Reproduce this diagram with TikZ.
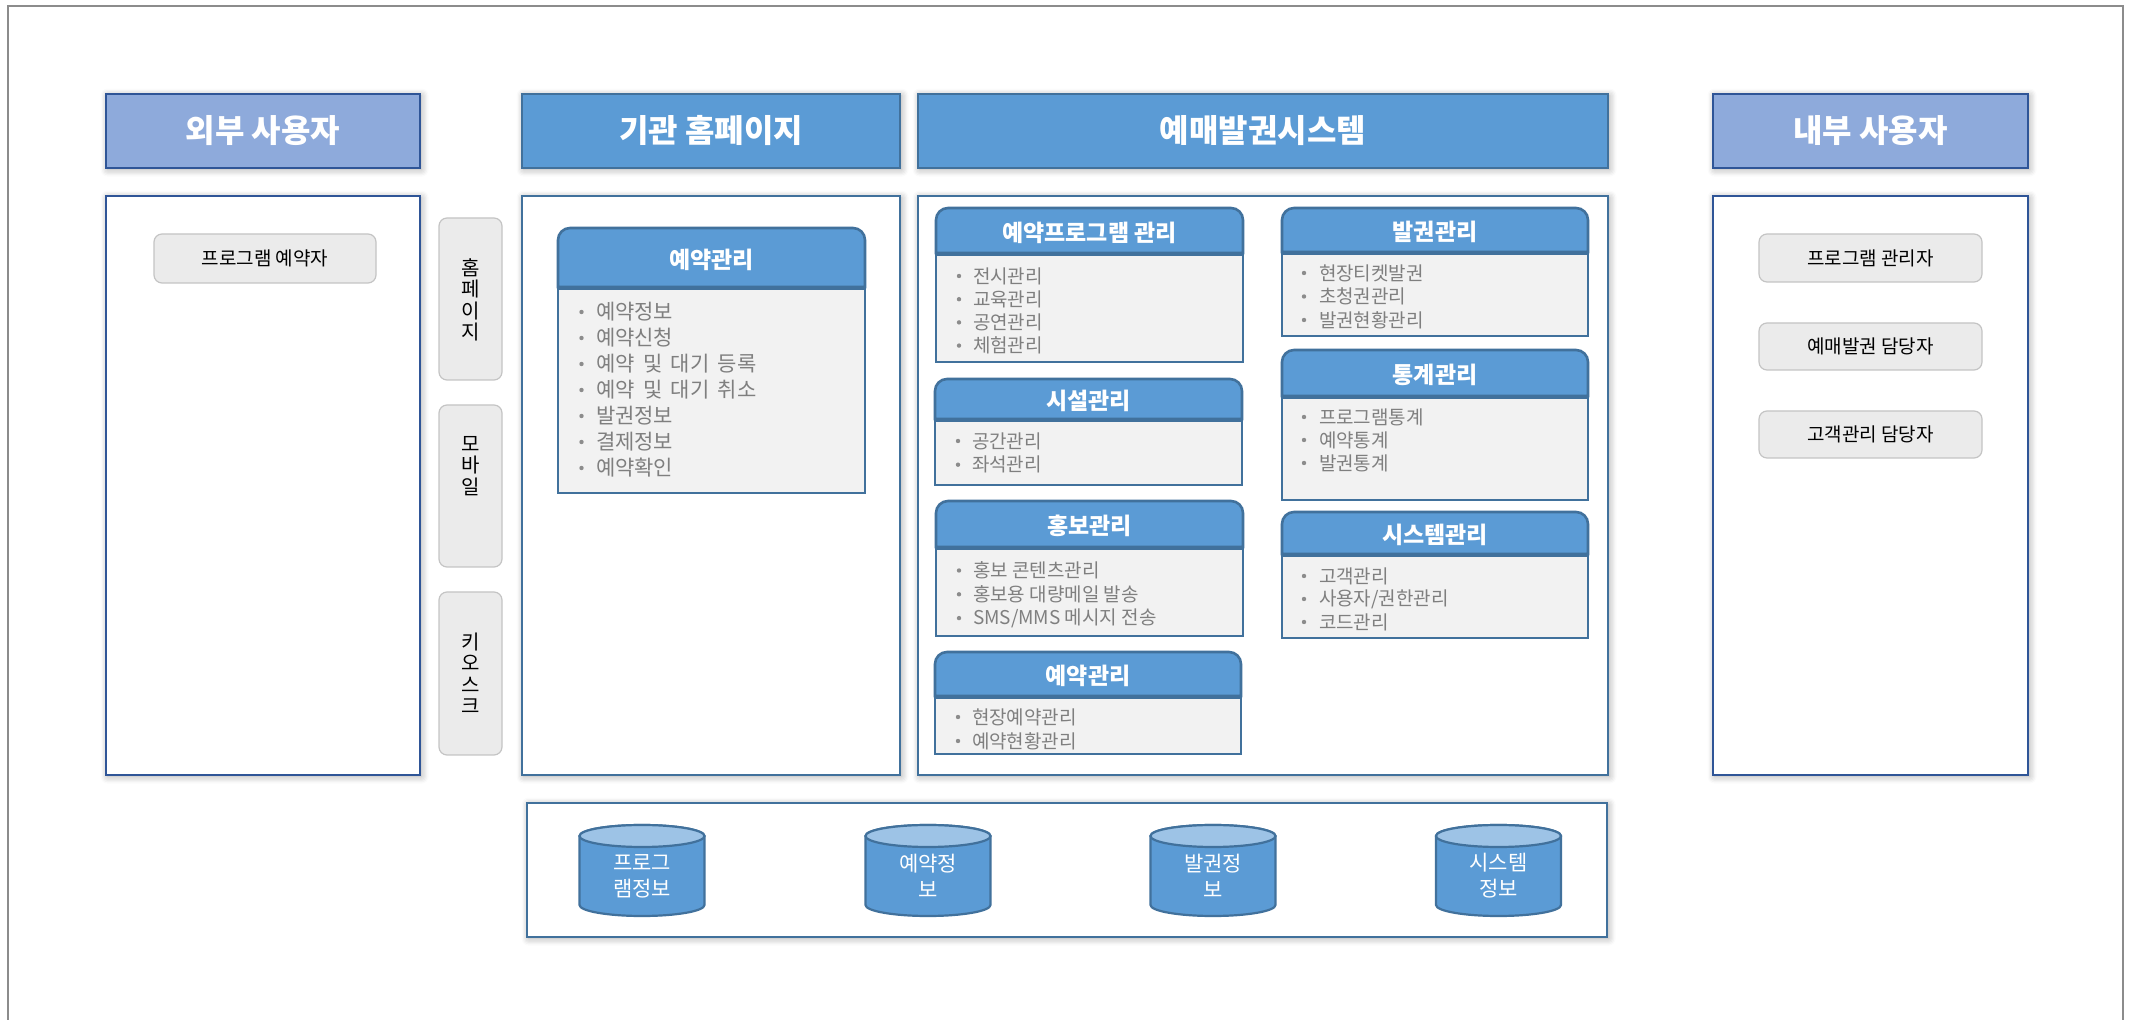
\documentclass[tikz,border=0pt]{standalone}
\usepackage{fontspec}
\setmainfont{Noto Sans CJK KR}
\newfontfamily\krwide{Noto Sans CJK KR}[WordSpace=1.8]
\usetikzlibrary{shadows.blur}

\definecolor{hdrblue}{HTML}{5B9BD5}
\definecolor{hdrline}{HTML}{41719C}
\definecolor{userblue}{HTML}{8EAADB}
\definecolor{userline}{HTML}{2F5597}
\definecolor{bodygray}{HTML}{F2F2F2}
\definecolor{itemgray}{HTML}{7F7F7F}
\definecolor{bulgray}{HTML}{8C8C8C}
\definecolor{btnfill}{HTML}{EBEBEB}
\definecolor{btnline}{HTML}{C4C4C4}
\definecolor{cyltop}{HTML}{9DC3E6}
\definecolor{framegray}{HTML}{8C8C8C}

\tikzset{
  base/.style={inner sep=0pt, outer sep=0pt},
  softshadow/.style={blur shadow={shadow xshift=0.8pt, shadow yshift=-0.8pt, shadow blur radius=3.5pt, shadow opacity=35, shadow blur steps=6}},
  tophdr/.style={base, rectangle, line width=1.3pt, text=white, font=\fontsize{16}{19}\selectfont\bfseries, softshadow},
  userhdr/.style={tophdr, fill=userblue, draw=userline},
  syshdr/.style={tophdr, fill=hdrblue, draw=hdrline},
  panel/.style={base, fill=white, line width=1.3pt, softshadow},
  btn/.style={base, rounded corners=4pt, fill=btnfill, draw=btnline, line width=0.6pt, font=\fontsize{9.5}{11}\selectfont},
  sidetxt/.style={base, align=center, font=\fontsize{10}{10.75}\selectfont},
  cardtitle/.style={base, text=white, font=\fontsize{11.5}{13}\selectfont\bfseries},
  cardline/.style={draw=hdrline, line width=1.3pt},
  item/.style={base, anchor=west, text=itemgray, font=\fontsize{9.5}{11}\selectfont},
  bigitem/.style={item, font=\krwide\fontsize{10.5}{12}\selectfont},
  cylline/.style={draw=hdrline, line width=1.1pt},
  cyltxt/.style={base, align=center, text=white, font=\fontsize{10.5}{13}\selectfont},
}

% style, name, x1, y1, x2, y2, text
\newcommand\pxbox[7]{%
  \node[#1, minimum width={(#5-#3)*0.5pt}, minimum height={(#6-#4)*0.5pt}] (#2) at ({(#3+#5)/2},{(#4+#6)/2}) {#7};}

% name, x1, top, x2, header bottom, bottom, title
\newcommand\mkcard[7]{%
  \draw[cardline, fill=hdrblue] (#2,#5) [rounded corners=6pt] -- (#2,#3) -- (#4,#3) [sharp corners] -- (#4,#5) -- cycle;
  \draw[cardline, fill=bodygray] (#2,{#5+1.5}) rectangle (#4,#6);
  \node[cardtitle] (#1) at ({(#2+#4)/2},{(#3+#5)/2+2}) {#7};}

% name, style, bullet x, text x, y0, dy, list
\newcommand\mkitems[7]{%
  \foreach \t [count=\i from 0] in {#7} {
    \fill[bulgray] (#3,{#5+\i*#6}) circle (1.1pt);
    \node[#2] (#1-\i) at (#4,{#5+\i*#6}) {\t};
  }}

% name, center x, top-ellipse y, bottom y, text
\newcommand\mkcyl[5]{%
  \draw[cylline, fill=hdrblue] ({#2-62.5},#3) -- ({#2-62.5},#4)
     arc[start angle=180, end angle=360, x radius=31.25pt, y radius=5.5pt]
     -- ({#2+62.5},#3) arc[start angle=0, end angle=180, x radius=31.25pt, y radius=5.5pt] -- cycle;
  \draw[cylline, fill=cyltop] (#2,#3) ellipse[x radius=31.25pt, y radius=5.5pt];
  \node[cyltxt] (#1) at (#2,876) {#5};}

\begin{document}
\begin{tikzpicture}[x=0.5pt,y=-0.5pt]
\useasboundingbox (0,0) rectangle (2132,1020);
\draw[framegray, line width=1pt] (8,1040) -- (8,6) -- (2123,6) -- (2123,1040);

% column headers
\pxbox{userhdr}{hext}{106}{94}{420}{168}{외부 사용자}
\pxbox{syshdr}{hweb}{522}{94}{900}{168}{기관 홈페이지}
\pxbox{syshdr}{hsys}{918}{94}{1608}{168}{예매발권시스템}
\pxbox{userhdr}{hint}{1713}{94}{2028}{168}{내부 사용자}

% column bodies
\pxbox{panel,draw=userline}{bext}{106}{196}{420}{775}{}
\pxbox{panel,draw=hdrline}{bweb}{522}{196}{900}{775}{}
\pxbox{panel,draw=hdrline}{bsys}{918}{196}{1608}{775}{}
\pxbox{panel,draw=userline}{bint}{1713}{196}{2028}{775}{}
\pxbox{panel,draw=hdrline}{bdb}{527}{803}{1607}{937}{}

% user buttons
\pxbox{btn}{uext}{154}{234}{376}{283}{프로그램 예약자}
\pxbox{btn}{uint1}{1759}{234}{1982}{282}{프로그램 관리자}
\pxbox{btn}{uint2}{1759}{323}{1982}{370}{예매발권 담당자}
\pxbox{btn}{uint3}{1759}{411}{1982}{458}{고객관리 담당자}

% channel boxes
\pxbox{btn}{chweb}{439}{218}{502}{380}{}
\pxbox{btn}{chmob}{439}{405}{502}{567}{}
\pxbox{btn}{chkio}{439}{592}{502}{755}{}
\node[sidetxt] (tweb) at (470.5,300) {홈\\페\\이\\지};
\node[sidetxt] (tmob) at (470.5,466) {모\\바\\일};
\node[sidetxt] (tkio) at (470.5,673) {키\\오\\스\\크};

% homepage card
\mkcard{cweb}{558}{228}{865}{287}{493}{예약관리}
\mkitems{iweb}{bigitem}{581.5}{596}{312}{26}{예약정보,예약신청,예약 및 대기 등록,예약 및 대기 취소,발권정보,결제정보,예약확인}

% system cards, left column
\mkcard{c1}{936}{208}{1243}{253}{362}{예약프로그램 관리}
\mkitems{i1}{item}{959}{973}{276}{23.2}{전시관리,교육관리,공연관리,체험관리}
\mkcard{c2}{935}{379}{1242}{419}{485}{시설관리}
\mkitems{i2}{item}{958}{972}{441}{23.7}{공간관리,좌석관리}
\mkcard{c3}{936}{501}{1243}{547}{636}{홍보관리}
\mkitems{i3}{item}{959}{973}{570.5}{23.8}{홍보 콘텐츠관리,홍보용 대량메일 발송,SMS/MMS 메시지 전송}
\mkcard{c4}{935}{652}{1241}{696}{754}{예약관리}
\mkitems{i4}{item}{958}{972}{717}{24}{현장예약관리,예약현황관리}

% system cards, right column
\mkcard{c5}{1282}{208}{1588}{252}{336}{발권관리}
\mkitems{i5}{item}{1304}{1319}{273}{23.5}{현장티켓발권,초청권관리,발권현황관리}
\mkcard{c6}{1282}{350}{1588}{396}{500}{통계관리}
\mkitems{i6}{item}{1304}{1319}{417}{23}{프로그램통계,예약통계,발권통계}
\mkcard{c7}{1282}{512}{1588}{554}{638}{시스템관리}
\mkitems{i7}{item}{1304}{1319}{576}{23}{고객관리,사용자/권한관리,코드관리}

% databases
\mkcyl{d1}{642}{836}{905}{프로그\\램정보}
\mkcyl{d2}{928}{836}{905}{예약정\\보}
\mkcyl{d3}{1213}{836}{905}{발권정\\보}
\mkcyl{d4}{1498.5}{836}{905}{시스템\\정보}
\end{tikzpicture}
\end{document}
